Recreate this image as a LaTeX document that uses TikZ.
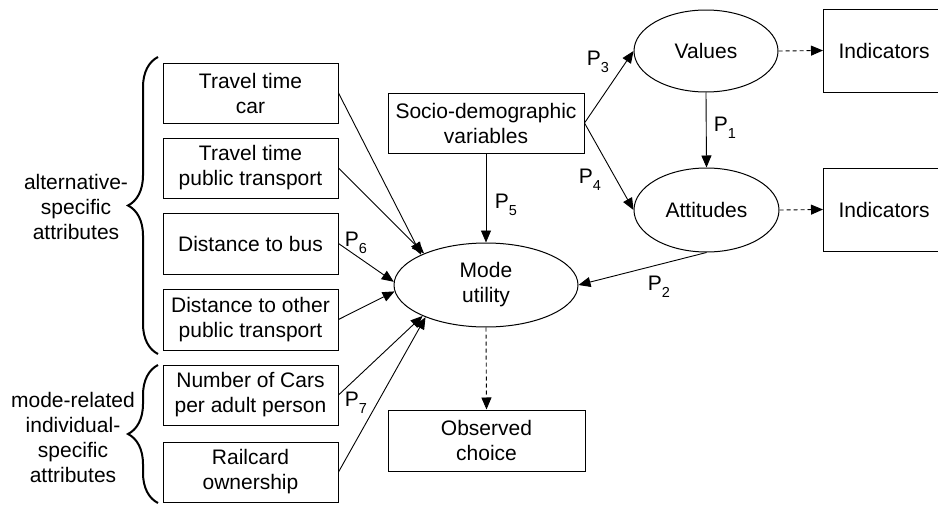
\documentclass[tikz,border=0pt]{standalone}
\usepackage{fontspec}
\setmainfont{Liberation Sans}
\usetikzlibrary{arrows.meta,decorations.pathreplacing,shapes.geometric}
\newcommand{\Plab}[1]{P\raisebox{-0.35em}{\fontsize{14.5}{14.5}\selectfont #1}}
\begin{document}
\begin{tikzpicture}[x=1pt,y=-1pt,
  font=\fontsize{21}{25}\selectfont,
  box/.style={draw, line width=1pt, inner sep=1pt, align=center, minimum width=175pt, minimum height=60pt},
  oval/.style={draw, ellipse, line width=1pt, inner sep=0pt, align=center},
  arr/.style={line width=0.9pt, -{Triangle[length=12pt,width=10pt]}},
  darr/.style={arr, dash pattern=on 4pt off 3pt},
  plab/.style={inner sep=0pt},
  brc/.style={line width=2pt, decorate, decoration={brace, amplitude=30pt}},
  grp/.style={align=center, inner sep=0pt}]
\useasboundingbox (0,0) rectangle (938,506);

% left boxes
\node[box] (ttc) at (250.5,93) {Travel time\\car};
\node[box] (ttp) at (250.5,168) {Travel time\\public transport};
\node[box, minimum height=61pt] (dbus) at (250.5,243.5) {Distance to bus};
\node[box, minimum height=61pt] (dother) at (250.5,319.5) {Distance to other\\public transport};
\node[box] (ncars) at (250.5,395) {Number of Cars\\per adult person};
\node[box] (rail) at (250.5,472) {Railcard\\ownership};

% centre
\node[box, minimum width=196pt] (socio) at (486,123) {Socio-demographic\\variables};
\node[oval, minimum width=184pt, minimum height=84pt] (mode) at (486,285) {Mode\\utility};
\node[box, minimum width=197pt, minimum height=61pt] (obs) at (486.5,440.5) {Observed\\choice};

% right
\node[oval, minimum width=144pt, minimum height=82pt] (values) at (706,51) {Values};
\node[oval, minimum width=145pt, minimum height=84pt] (att) at (706.5,210) {Attitudes};
\node[draw, line width=1pt, anchor=west, minimum height=83pt, text width=110pt, inner xsep=15pt, align=left] (ind1) at (823,50.5) {Indicators};
\node[draw, line width=1pt, anchor=west, minimum height=83pt, text width=110pt, inner xsep=15pt, align=left] (ind2) at (823,209.5) {Indicators};

% braces and group labels
\draw[brc] (158,354) -- (158,57);
\draw[brc] (158,503) -- (158,365);
\node[grp] (g1) at (76,207) {alternative-\\specific\\attributes};
\node[grp] (g2) at (73,437) {mode-related\\individual-\\specific\\attributes};

% connectors
\draw[arr] (ttc.east) -- (mode.155);
\draw[arr] (ttp.east) -- (mode.153);
\draw[arr] (dbus.east) -- (mode.178);
\draw[arr] (dother.east) -- (mode.184);
\draw[arr] (ncars.east) -- (mode.206);
\draw[arr] (rail.east) -- (mode.208);
\draw[arr] (socio.south) -- (mode.north);
\draw[arr] (socio.east) -- (values.west);
\draw[arr] (socio.east) -- (att.west);
\draw[arr] (values.south) -- (att.north);
\draw[arr] (att.south) -- (mode.east);
\draw[darr] (mode.south) -- (obs.north);
\draw[darr] (values.east) -- (ind1.west);
\draw[darr] (att.east) -- (ind2.west);

% path labels
\node[plab] (p1) at (725,128) {\Plab{1}};
\node[plab] (p2) at (659,287) {\Plab{2}};
\node[plab] (p3) at (598,62) {\Plab{3}};
\node[plab] (p4) at (590,180) {\Plab{4}};
\node[plab] (p5) at (506,205) {\Plab{5}};
\node[plab] (p6) at (356,243) {\Plab{6}};
\node[plab] (p7) at (356,403) {\Plab{7}};
\end{tikzpicture}
\end{document}
